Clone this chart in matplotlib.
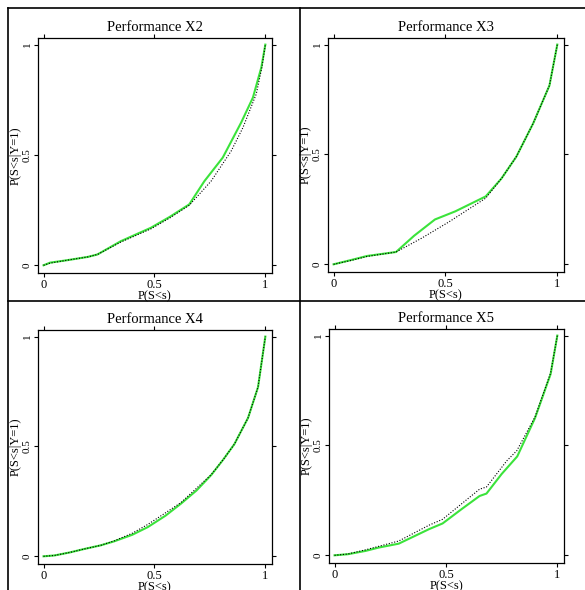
import matplotlib
matplotlib.use('Agg')
import matplotlib.pyplot as plt
from matplotlib.lines import Line2D

plt.rcParams['font.family'] = ['Liberation Serif', 'DejaVu Serif']

# Performance X2
x2_fit_x = [0, 0.03, 0.1, 0.2, 0.243, 0.348, 0.484, 0.57, 0.657, 0.725, 0.808, 0.891, 0.944, 0.982, 1.0]
x2_fit_y = [0, 0.012, 0.022, 0.038, 0.049, 0.109, 0.17, 0.22, 0.276, 0.381, 0.488, 0.647, 0.76, 0.897, 1.0]
x2_ref_x = [0, 0.03, 0.1, 0.2, 0.243, 0.348, 0.484, 0.57, 0.657, 0.756, 0.846, 0.899, 0.959, 0.985, 1.0]
x2_ref_y = [0, 0.01, 0.022, 0.038, 0.049, 0.105, 0.165, 0.215, 0.272, 0.382, 0.518, 0.624, 0.776, 0.9, 1.0]

# Performance X3
x3_fit_x = [0, 0.08, 0.15, 0.279, 0.36, 0.453, 0.544, 0.68, 0.75, 0.817, 0.892, 0.965, 1.0]
x3_fit_y = [0, 0.02, 0.038, 0.056, 0.13, 0.204, 0.241, 0.309, 0.39, 0.49, 0.641, 0.814, 1.0]
x3_ref_x = [0, 0.08, 0.15, 0.279, 0.392, 0.514, 0.68, 0.75, 0.817, 0.892, 0.965, 1.0]
x3_ref_y = [0, 0.018, 0.036, 0.056, 0.118, 0.192, 0.301, 0.39, 0.49, 0.641, 0.814, 1.0]

# Performance X4
x4_fit_x = [0, 0.05, 0.12, 0.182, 0.258, 0.318, 0.4, 0.47, 0.55, 0.62, 0.69, 0.756, 0.81, 0.86, 0.922, 0.967, 1.0]
x4_fit_y = [0, 0.004, 0.018, 0.033, 0.05, 0.068, 0.098, 0.133, 0.185, 0.24, 0.3, 0.37, 0.44, 0.51, 0.63, 0.77, 1.0]
x4_ref_x = [0, 0.05, 0.12, 0.182, 0.258, 0.318, 0.4, 0.47, 0.55, 0.62, 0.69, 0.756, 0.81, 0.86, 0.922, 0.967, 1.0]
x4_ref_y = [0, 0.004, 0.018, 0.033, 0.05, 0.07, 0.105, 0.145, 0.198, 0.245, 0.31, 0.372, 0.44, 0.51, 0.63, 0.77, 1.0]

# Performance X5
x5_fit_x = [0, 0.06, 0.139, 0.197, 0.288, 0.424, 0.485, 0.57, 0.651, 0.682, 0.75, 0.82, 0.9, 0.97, 1.0]
x5_fit_y = [0, 0.005, 0.02, 0.035, 0.053, 0.119, 0.145, 0.21, 0.27, 0.281, 0.37, 0.45, 0.625, 0.825, 1.0]
x5_ref_x = [0, 0.06, 0.139, 0.288, 0.424, 0.485, 0.651, 0.682, 0.773, 0.818, 0.9, 0.97, 1.0]
x5_ref_y = [0, 0.006, 0.025, 0.065, 0.137, 0.164, 0.301, 0.311, 0.43, 0.476, 0.63, 0.83, 1.0]

titles = ['Performance X2', 'Performance X3', 'Performance X4', 'Performance X5']
fits = [(x2_fit_x, x2_fit_y), (x3_fit_x, x3_fit_y), (x4_fit_x, x4_fit_y), (x5_fit_x, x5_fit_y)]
refs = [(x2_ref_x, x2_ref_y), (x3_ref_x, x3_ref_y), (x4_ref_x, x4_ref_y), (x5_ref_x, x5_ref_y)]

fig = plt.figure(figsize=(5.85, 5.90), dpi=100)

# axes boxes in pixels: left, top, right, bottom
boxes = [(38, 38, 272, 273), (328, 38, 564, 272), (38, 330, 272, 564), (329, 329, 564, 563)]
W, H = 585.0, 590.0

for i in range(4):
    l, t, r, b = boxes[i]
    ax = fig.add_axes([l / W, 1 - b / H, (r - l) / W, (b - t) / H])
    ax.plot(fits[i][0], fits[i][1], color='#3be33b', lw=1.5)
    ax.plot(refs[i][0], refs[i][1], color='black', lw=0.8, linestyle=(0, (1, 1.5)))
    ax.set_xlim(-0.025, 1.03)
    ax.set_ylim(-0.035, 1.03)
    ax.set_xticks([0, 0.5, 1])
    ax.set_yticks([0, 0.5, 1])
    ax.set_xticklabels(['0', '0.5', '1'], fontsize=9)
    ax.set_yticklabels(['0', '0.5', '1'], fontsize=8, rotation=90, va='center')
    ax.tick_params(direction='out', length=3, width=0.8, top=True, right=True,
                   labeltop=False, labelright=False, pad=1.5)
    ax.tick_params(axis='x', pad=1)
    for s in ax.spines.values():
        s.set_linewidth(0.9)
    ax.set_title(titles[i], fontsize=10.5, pad=5)
    ax.set_xlabel('P(S<s)', fontsize=9, labelpad=-0.5)
    ax.set_ylabel('P(S<s|Y=1)', fontsize=9, labelpad=1)

# panel frame lines
fig.add_artist(Line2D([7.5 / W, 1], [1 - 8 / H, 1 - 8 / H], color='black', lw=1.2))
fig.add_artist(Line2D([7.5 / W, 7.5 / W], [0, 1 - 8 / H], color='black', lw=1.2))
fig.add_artist(Line2D([300 / W, 300 / W], [0, 1 - 8 / H], color='black', lw=1.2))
fig.add_artist(Line2D([7.5 / W, 1], [1 - 300.5 / H, 1 - 300.5 / H], color='black', lw=1.2))

plt.savefig('out.png', dpi=100)
